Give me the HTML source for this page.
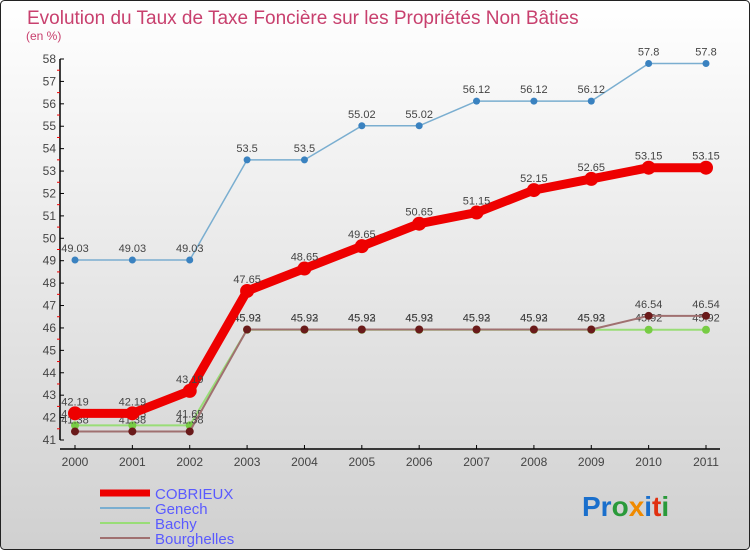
<!DOCTYPE html>
<html><head><meta charset="utf-8"><style>
body{margin:0;width:750px;height:550px;overflow:hidden;font-family:"Liberation Sans",sans-serif}
</style></head><body>
<svg id="chart" width="750" height="550" xmlns="http://www.w3.org/2000/svg">
<defs><linearGradient id="bg" x1="0" y1="0" x2="0" y2="1"><stop offset="0" stop-color="#ffffff"/><stop offset="1" stop-color="#d0d0d0"/></linearGradient></defs>
<rect x="0.5" y="0.5" width="749" height="549" rx="4" fill="url(#bg)" stroke="#222"/>
<text x="27" y="24" font-size="19" fill="#c8406e">Evolution du Taux de Taxe Foncière sur les Propriétés Non Bâties</text>
<text x="26" y="40" font-size="12" fill="#c8406e">(en %)</text>
<g id="axes"></g><g id="series"></g><g id="legend"></g>
<text x="582" y="516" font-size="28" font-weight="bold"><tspan fill="#1a6fcc">Pr</tspan><tspan fill="#2a9a3a">o</tspan><tspan fill="#f08a00">x</tspan><tspan fill="#1a6fcc">i</tspan><tspan fill="#e03010">t</tspan><tspan fill="#2a9a3a">i</tspan></text>
</svg>
<script>
const years=[2000,2001,2002,2003,2004,2005,2006,2007,2008,2009,2010,2011];
const cobrieux=[42.19,42.19,43.19,47.65,48.65,49.65,50.65,51.15,52.15,52.65,53.15,53.15];
const genech=[49.03,49.03,49.03,53.5,53.5,55.02,55.02,56.12,56.12,56.12,57.8,57.8];
const bachy=[41.65,41.65,41.65,45.92,45.92,45.92,45.92,45.92,45.92,45.92,45.92,45.92];
const bourghelles=[41.38,41.38,41.38,45.93,45.93,45.93,45.93,45.93,45.93,45.93,46.54,46.54];
const yTicks=[41,42,43,44,45,46,47,48,49,50,51,52,53,54,55,56,57,58];
const NS="http://www.w3.org/2000/svg";
const xs=i=>75+i*(706-75)/11;
const ys=v=>440-(v-41)*(381/17);
function mk(p,t,a){const e=document.createElementNS(NS,t);for(const k in a)e.setAttribute(k,a[k]);p.appendChild(e);return e;}
const ax=document.getElementById('axes');
let l=mk(ax,'line',{x1:60,y1:ys(58),x2:60,y2:ys(41),stroke:'#000','stroke-width':1.5});


l=mk(ax,'line',{x1:60,y1:449,x2:720,y2:449,stroke:'#000','stroke-width':1.5});


yTicks.forEach(v=>{const y=ys(v);
 mk(ax,'line',{x1:60,y1:y,x2:64,y2:y,stroke:'#000'});
 if(v<58)mk(ax,'line',{x1:57,y1:y-11.2,x2:60,y2:y-11.2,stroke:'#e00'});
 const t=mk(ax,'text',{x:56,y:y+4,'font-size':12,fill:'#444','text-anchor':'end'});t.textContent=v;
 
 });
years.forEach((yr,i)=>{const x=xs(i);
 mk(ax,'line',{x1:x,y1:445,x2:x,y2:449,stroke:'#000'});
 const t=mk(ax,'text',{x:x,y:466,'font-size':12,fill:'#444','text-anchor':'middle'});t.textContent=yr;
 
 });
const sg=document.getElementById('series');
const defs=[
 {n:'bachy',d:bachy,c:'#99dd77',dot:'#77cc44',w:2,r:4,lbl:'Bachy'},
 {n:'bourghelles',d:bourghelles,c:'#a07070',dot:'#6a1a1a',w:2,r:4,lbl:'Bourghelles'},
 {n:'genech',d:genech,c:'#7aaed0',dot:'#3a82c0',w:1.5,r:3.5,lbl:'Genech'},
 {n:'cobrieux',d:cobrieux,c:'#ee0000',dot:'#ee0000',w:9,r:7,lbl:'COBRIEUX'}];
defs.forEach(s=>{
 const p=mk(sg,'polyline',{points:s.d.map((v,i)=>xs(i)+','+ys(v)).join(' '),fill:'none',stroke:s.c,'stroke-width':s.w,'stroke-linejoin':'round'});
 
 
 s.d.forEach((v,i)=>{
  const c=mk(sg,'circle',{cx:xs(i),cy:ys(v),r:s.r,fill:s.dot});
  
  
  const t=mk(sg,'text',{x:xs(i),y:ys(v)-8,'font-size':11,fill:'#444','text-anchor':'middle'});t.textContent=v;
  
  });
});
const lg=document.getElementById('legend');
[defs[3],defs[2],defs[0],defs[1]].forEach((s,k)=>{const y=493+k*15;
 const ln=mk(lg,'line',{x1:100,y1:y,x2:150,y2:y,stroke:s.c,'stroke-width':s.n==='cobrieux'?7:2});
 
 
 const t=mk(lg,'text',{x:155,y:y+6,'font-size':15,fill:'#5a5aff'});t.textContent=s.lbl;
 
 });
</script>
</body></html>
